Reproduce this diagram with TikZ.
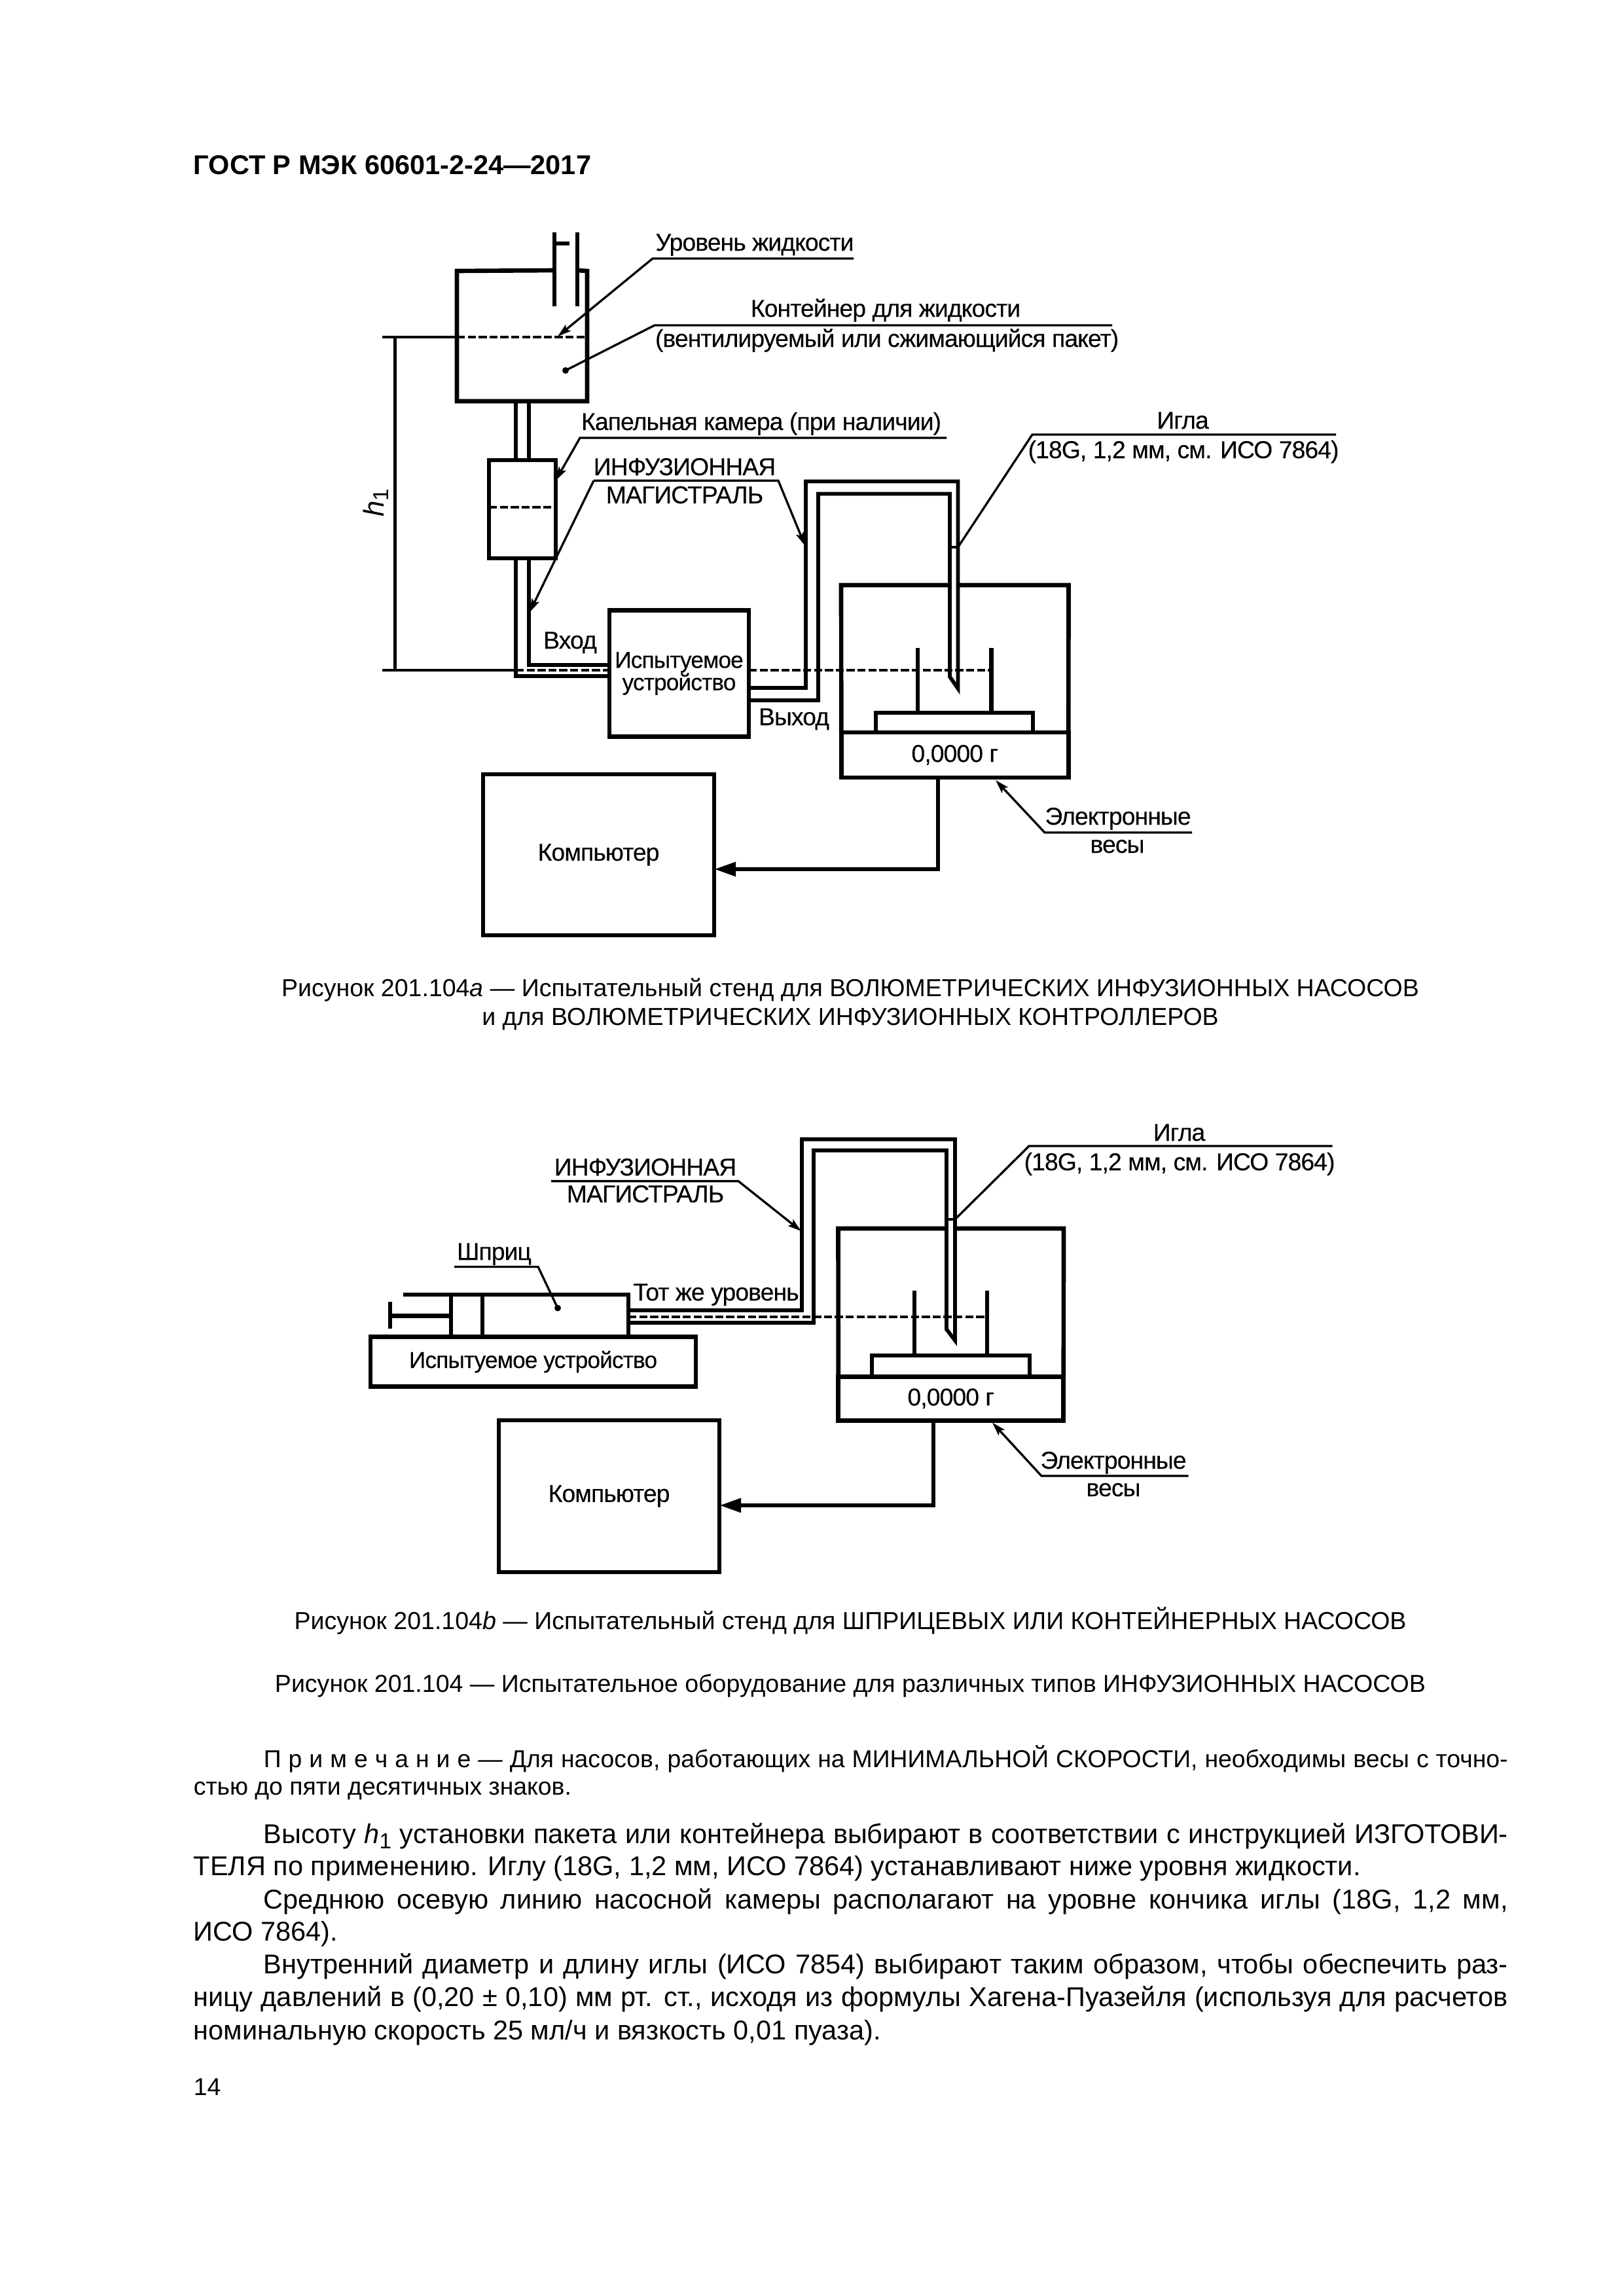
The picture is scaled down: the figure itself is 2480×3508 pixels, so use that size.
\documentclass[tikz,border=0pt]{standalone}
\usepackage{fontspec}
\setmainfont{Liberation Sans}
\usetikzlibrary{arrows.meta, positioning, calc}
\def\px{0.0084677cm}
\newcommand{\fullline}[1]{\hbox to 17.003cm{#1}}
\newcommand{\indentline}[1]{\hbox to 16.097cm{#1}}

\begin{document}
\begin{tikzpicture}[
  x=0.0084677cm, y=-0.0084677cm,
  sized/.style 2 args={minimum width=#1*\px, minimum height=#2*\px, inner sep=0pt, outer sep=0pt},
  unitbox/.style={rectangle, draw, line width=1.6pt, font=\labelfont},
  wall/.style={line width=1.6pt, line join=miter},
  tubeline/.style={line width=1.4pt, line join=miter},
  needleline/.style={line width=1.05pt, line join=miter},
  leader/.style={line width=0.8pt},
  arrowleader/.style={leader, -{Stealth[length=5pt, width=3pt, inset=1pt]}},
  levelline/.style={line width=1pt},
  leveldash/.style={line width=1pt, dash pattern=on 3pt off 1pt},
  signal/.style={line width=1.6pt, -{Stealth[length=8pt, width=5pt, inset=0pt]}},
  labeltext/.style={font=\labelfont, anchor=base, inner sep=0pt},
  captiontext/.style={font=\captionfont, anchor=base, inner sep=0pt},
  pagetext/.style={font=\pagefont, anchor=base west, inner sep=0pt},
  notetext/.style={font=\notefont, anchor=base west, inner sep=0pt},
  pointdot/.style={circle, fill, inner sep=0pt, minimum size=10*\px},
]
  \def\labelfont{\fontsize{9}{8.2}\selectfont\addfontfeature{LetterSpace=-2.5, FakeBold=0.2}}
  \def\devicefont{\fontsize{8.5}{8.2}\selectfont\addfontfeature{LetterSpace=-2.5, FakeBold=0.2}}
  \def\captionfont{\fontsize{9.04}{11}\selectfont}
  \def\pagefont{\fontsize{10}{12}\selectfont}
  \def\notefont{\fontsize{9}{11}\selectfont}
  \useasboundingbox (0,0) rectangle (2480,3508);

  % Колонтитул
  \node[anchor=base west, inner sep=0pt, font=\fontsize{10}{12}\selectfont\bfseries] (header) at (295,266) {ГОСТ Р МЭК 60601-2-24—2017};

  % Рисунок a: узлы
  \node[sized={199}{199}] (bag) at (797.5,513.5) {};
  \node[unitbox, sized={102}{150}] (chamberA) at (798,778) {};
  \node[unitbox, sized={213}{193}, align=center, font=\devicefont] (deviceA) at (1037.5,1029) {Испытуемое\\устройство};
  \node[unitbox, sized={347}{69}] (readoutA) at (1458.75,1153.5) {0,0000 г};
  \node[unitbox, sized={240}{30}] (panA) at (1458,1104) {};
  \node[unitbox, sized={353}{246}] (computerA) at (914.5,1306) {Компьютер};
  \coordinate (stemL) at (847,413);
  \coordinate (stemR) at (882,413);
  \coordinate (scaleTL) at (1285,894);
  \coordinate (scaleTR) at (1632.5,894);
  \coordinate (holeL) at (1451,894);
  \coordinate (holeR) at (1463.5,894);

  % Контейнер и чашка весов
  \draw[wall] (stemL) -- (bag.north west) -- (bag.south west) -- (bag.south east) -- (bag.north east) -- (stemR);
  \draw[wall] (847,355) -- (847,468);
  \draw[wall] (882,355) -- (882,468);
  \draw[wall] (847,372) -- (870,372);
  \draw[wall] (readoutA.north west) -- (scaleTL) -- (holeL);
  \draw[wall] (holeR) -- (scaleTR) -- (readoutA.north east);
  \draw[wall] (1402,990) -- (1402,1089);
  \draw[wall] (1514.5,990) -- (1514.5,1089);

  % Уровни
  \coordinate (levelTop) at (584,515);
  \coordinate (levelLow) at (584,1024);
  \draw[levelline] (levelTop) -- (bag.west |- levelTop);
  \draw[leveldash] (bag.west |- levelTop) -- (bag.east |- levelTop);
  \draw[levelline] (levelLow) -- (788,1024);
  \draw[leveldash] (788,1024) -- (deviceA.west |- levelLow);
  \draw[leveldash] (deviceA.east |- levelLow) -- (1514.5,1024);
  \draw[leveldash] (chamberA.west |- 0,775) -- (chamberA.east |- 0,775);
  \draw[levelline] (603.5,515) -- (603.5,1024);
  \node[font=\fontsize{10.5}{12}\selectfont, rotate=90, inner sep=0pt] (hone) at (574,768) {{\itshape h}\raisebox{-0.3ex}{\fontsize{8}{9}\selectfont 1}};

  % Инфузионная магистраль
  \draw[tubeline] (788,613) -- (788,703);
  \draw[tubeline] (808,613) -- (808,703);
  \draw[tubeline] (788,853) -- (788,1033) -- (deviceA.west |- 0,1033);
  \draw[tubeline] (808,853) -- (808,1016) -- (deviceA.west |- 0,1016);
  \draw[tubeline] (deviceA.east |- 0,1051) -- (1231,1051) -- (1231,735.5) -- (1463.5,735.5) -- (1463.5,1052) -- (1451,1034) -- (1451,754.5) -- (1250,754.5) -- (1250,1070) -- (deviceA.east |- 0,1070);
  \draw[needleline] (1451,836) -- (1463.5,836);

  % Сигнал на компьютер
  \draw[signal] (readoutA.south -| 1433,0) -- (1433,1328) -- (computerA.east |- 0,1328);

  % Выноски рисунка a
  \draw[arrowleader] (1304,395) -- (997,395) -- (852,514);
  \node[labeltext] (lblLevel) at (1153,383) {Уровень жидкости};
  \draw[leader] (1699,497) -- (1000,497) -- (864,566);
  \node[pointdot] (dotBag) at (864,566) {};
  \node[labeltext] (lblBagA) at (1353,484) {Контейнер для жидкости};
  \node[labeltext] (lblBagB) at (1355,530) {(вентилируемый или сжимающийся пакет)};
  \draw[arrowleader] (1446,669) -- (886,669) -- (849,734);
  \node[labeltext] (lblDrip) at (1163,657) {Капельная камера (при наличии)};
  \draw[arrowleader] (907,734.4) -- (809,935.6);
  \draw[arrowleader] (907,734.4) -- (1189,734.4) -- (1230,834);
  \node[labeltext] (lblLineA1) at (1046,726) {ИНФУЗИОННАЯ};
  \node[labeltext] (lblLineA2) at (1046,769) {МАГИСТРАЛЬ};
  \node[labeltext] (lblIn) at (871,991) {Вход};
  \node[labeltext] (lblOut) at (1213,1108) {Выход};
  \draw[leader] (2041,664) -- (1577,664) -- (1463.5,836);
  \node[labeltext] (lblNeedleA1) at (1807,655) {Игла};
  \node[labeltext] (lblNeedleA2) at (1808,700) {(18G, 1,2 мм, см. ИСО 7864)};
  \draw[arrowleader] (1821,1272) -- (1596,1272) -- (1521,1192);
  \node[labeltext] (lblScaleA1) at (1708,1260) {Электронные};
  \node[labeltext] (lblScaleA2) at (1707,1303) {весы};

  % Подписи к рисунку a
  \node[captiontext] (capA1) at (1299,1522) {Рисунок 201.104{\itshape а} — Испытательный стенд для ВОЛЮМЕТРИЧЕСКИХ ИНФУЗИОННЫХ НАСОСОВ};
  \node[captiontext] (capA2) at (1299,1566) {и для ВОЛЮМЕТРИЧЕСКИХ ИНФУЗИОННЫХ КОНТРОЛЛЕРОВ};

  % Рисунок b: узлы
  \node[unitbox, sized={497}{76}, font=\devicefont] (deviceB) at (814.5,2080.6) {Испытуемое устройство};
  \node[unitbox, sized={344}{67}] (readoutB) at (1452.75,2136.75) {0,0000 г};
  \node[unitbox, sized={241}{32}] (panB) at (1452.5,2087) {};
  \node[unitbox, sized={337}{232}] (computerB) at (930.5,2285.8) {Компьютер};
  \coordinate (scaleBL) at (1280.5,1877);
  \coordinate (scaleBR) at (1625,1877);
  \coordinate (holeBL) at (1446,1877);
  \coordinate (holeBR) at (1459,1877);

  % Шприц
  \draw[wall] (616,1978) -- (960,1978) -- (deviceB.north -| 960,0);
  \draw[wall] (689,1978) -- (deviceB.north -| 689,0);
  \draw[wall] (737,1978) -- (deviceB.north -| 737,0);
  \draw[wall] (689,2010.6) -- (596,2010.6);
  \draw[wall] (596,1989) -- (596,2030);
  \draw[wall] (readoutB.north west) -- (scaleBL) -- (holeBL);
  \draw[wall] (holeBR) -- (scaleBR) -- (readoutB.north east);
  \draw[wall] (1397,1972) -- (1397,2071);
  \draw[wall] (1508,1972) -- (1508,2071);

  % Тот же уровень и магистраль
  \draw[leveldash] (960,2011.6) -- (1508,2011.6);
  \draw[tubeline] (960,2002) -- (1225,2002) -- (1225,1740.6) -- (1459,1740.6) -- (1459,2048) -- (1446,2031) -- (1446,1757.6) -- (1243,1757.6) -- (1243,2021) -- (960,2021);
  \draw[needleline] (1446,1863) -- (1459,1863);
  \draw[signal] (readoutB.south -| 1426,0) -- (1426,2300) -- (computerB.east |- 0,2300);

  % Выноски рисунка b
  \draw[arrowleader] (842,1804.6) -- (1128,1804.6) -- (1224,1881);
  \node[labeltext] (lblLineB1) at (986,1796) {ИНФУЗИОННАЯ};
  \node[labeltext] (lblLineB2) at (986,1837) {МАГИСТРАЛЬ};
  \draw[leader] (694,1935.5) -- (822,1935.5) -- (852,1998.5);
  \node[pointdot] (dotSyringe) at (852,1998.5) {};
  \node[labeltext] (lblSyringe) at (755,1925) {Шприц};
  \node[labeltext] (lblSame) at (1094,1987) {Тот же уровень};
  \draw[leader] (2035.6,1751) -- (1572,1751) -- (1459,1863);
  \node[labeltext] (lblNeedleB1) at (1801.5,1743) {Игла};
  \node[labeltext] (lblNeedleB2) at (1802,1788) {(18G, 1,2 мм, см. ИСО 7864)};
  \draw[arrowleader] (1815.6,2255) -- (1591,2255) -- (1516,2173.5);
  \node[labeltext] (lblScaleB1) at (1701,2244) {Электронные};
  \node[labeltext] (lblScaleB2) at (1701,2286) {весы};

  % Подписи к рисунку b
  \node[captiontext] (capB) at (1299,2489) {Рисунок 201.104{\itshape b} — Испытательный стенд для ШПРИЦЕВЫХ ИЛИ КОНТЕЙНЕРНЫХ НАСОСОВ};
  \node[captiontext] (capAll) at (1299,2585) {Рисунок 201.104 — Испытательное оборудование для различных типов ИНФУЗИОННЫХ НАСОСОВ};

  % Текст страницы
  \node[notetext] (note1) at (402,2700) {\indentline{П р и м е ч а н и е — Для насосов, работающих на МИНИМАЛЬНОЙ СКОРОСТИ, необходимы весы с точно-}};
  \node[notetext] (note2) at (295,2742) {стью до пяти десятичных знаков.};
  \node[pagetext] (par1) at (402,2816) {\indentline{Высоту {\itshape h}\raisebox{-0.4ex}{\fontsize{8}{9}\selectfont 1} установки пакета или контейнера выбирают в соответствии с инструкцией ИЗГОТОВИ-}};
  \node[pagetext] (par2) at (295,2865) {ТЕЛЯ по применению. Иглу (18G, 1,2 мм, ИСО 7864) устанавливают ниже уровня жидкости.};
  \node[pagetext] (par3) at (402,2916) {\indentline{Среднюю осевую линию насосной камеры располагают на уровне кончика иглы (18G, 1,2 мм,}};
  \node[pagetext] (par4) at (295,2965) {ИСО 7864).};
  \node[pagetext] (par5) at (402,3015) {\indentline{Внутренний диаметр и длину иглы (ИСО 7854) выбирают таким образом, чтобы обеспечить раз-}};
  \node[pagetext] (par6) at (295,3065) {\fullline{ницу давлений в (0,20 ± 0,10) мм рт. ст., исходя из формулы Хагена-Пуазейля (используя для расчетов}};
  \node[pagetext] (par7) at (295,3116) {номинальную скорость 25 мл/ч и вязкость 0,01 пуаза).};
  \node[notetext] (pageno) at (295,3201) {14};
\end{tikzpicture}
\end{document}
